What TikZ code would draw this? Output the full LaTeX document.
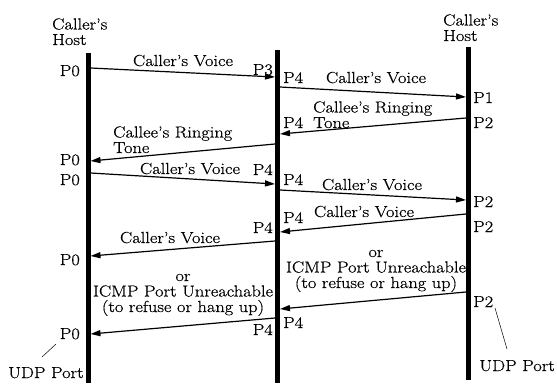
\documentclass[tikz,border=0pt]{standalone}
\usepackage{fontspec}
\setmainfont{Latin Modern Roman}[FakeStretch=1.15, FakeBold=0.6]
\usetikzlibrary{arrows.meta}

\begin{document}
\begin{tikzpicture}[
x=1pt, y=-1pt,
life/.style={line width=5pt},
msg/.style={-{Triangle[length=10pt,width=6pt]}, line width=1.2pt},
txt/.style={font=\fontsize{16}{15.5}\selectfont, inner sep=0pt, anchor=base},
portl/.style={txt, anchor=base east},
portr/.style={txt, anchor=base west},
note/.style={txt, align=center},
pin/.style={line width=0.5pt}
]
\useasboundingbox (0,0) rectangle (557,383);

% hosts and the relay in the middle
\node[txt, anchor=base west, align=left] (hostl) at (52,45) {Caller's\\Host};
\node[txt, anchor=base west, align=left] (hostr) at (443,41) {Caller's\\Host};
\draw[life] (88,53) coordinate (ltop) -- (88,383) coordinate (lbot);
\draw[life] (277.5,50) coordinate (mtop) -- (277.5,383) coordinate (mbot);
\draw[life] (468.5,47) coordinate (rtop) -- (468.5,380) coordinate (rbot);

% message ends
\coordinate (m1a) at (90.5,68);  \coordinate (m1b) at (275,77);
\coordinate (m2a) at (280,87);   \coordinate (m2b) at (466,97);
\coordinate (m3a) at (466,118);  \coordinate (m3b) at (280,134);
\coordinate (m4a) at (275,144);  \coordinate (m4b) at (90.5,161);
\coordinate (m5a) at (90.5,173); \coordinate (m5b) at (275,184);
\coordinate (m6a) at (280,190);  \coordinate (m6b) at (466,200);
\coordinate (m7a) at (466,214);  \coordinate (m7b) at (280,232);
\coordinate (m8a) at (275,241);  \coordinate (m8b) at (90.5,256);
\coordinate (m9a) at (466,292);  \coordinate (m9b) at (280,309);
\coordinate (m10a) at (275,318); \coordinate (m10b) at (90.5,334);

\draw[msg] (m1a) -- (m1b);
\draw[msg] (m2a) -- (m2b);
\draw[msg] (m3a) -- (m3b);
\draw[msg] (m4a) -- (m4b);
\draw[msg] (m5a) -- (m5b);
\draw[msg] (m6a) -- (m6b);
\draw[msg] (m7a) -- (m7b);
\draw[msg] (m8a) -- (m8b);
\draw[msg] (m9a) -- (m9b);
\draw[msg] (m10a) -- (m10b);

% message labels
\node[txt] (v1) at (183,66) {Caller's Voice};
\node[txt] (v2) at (376,83) {Caller's Voice};
\node[txt, anchor=base west, align=left] (ring2) at (313,128) {Callee's Ringing\\Tone};
\node[txt, anchor=base west, align=left] (ring1) at (113,153) {Callee's Ringing\\Tone};
\node[txt] (v5) at (190,174) {Caller's Voice};
\node[txt] (v6) at (372,190) {Caller's Voice};
\node[txt] (v7) at (364,217) {Caller's Voice};
\node[txt] (v8) at (170,243) {Caller's Voice};
\node[note] (icmp2) at (376,288) {or\\ICMP Port Unreachable\\(to refuse or hang up)};
\node[note] (icmp1) at (183,312) {or\\ICMP Port Unreachable\\(to refuse or hang up)};

% ports
\node[portl] (p0a) at (80,76) {P0};
\node[portl] (p0b) at (80,165) {P0};
\node[portl] (p0c) at (80,185) {P0};
\node[portl] (p0d) at (80,265) {P0};
\node[portl] (p0e) at (80,339) {P0};
\node[portl] (p3) at (273,75) {P3};
\node[portl] (p4a) at (273,175) {P4};
\node[portl] (p4b) at (273,233) {P4};
\node[portl] (p4c) at (273,335) {P4};
\node[portr] (p4d) at (283,83) {P4};
\node[portr] (p4e) at (283,128) {P4};
\node[portr] (p4f) at (283,185) {P4};
\node[portr] (p4g) at (283,223) {P4};
\node[portr] (p4h) at (283,328) {P4};
\node[portr] (p1) at (473,103) {P1};
\node[portr] (p2a) at (473,128) {P2};
\node[portr] (p2b) at (473,207) {P2};
\node[portr] (p2c) at (473,232) {P2};
\node[portr] (p2d) at (473,307) {P2};

% udp port callouts
\node[portr] (udpl) at (8,378) {UDP Port};
\node[portl] (udpr) at (555,371) {UDP Port};
\coordinate (udpl0) at (42,357); \coordinate (udpl1) at (56,344);
\coordinate (udpr0) at (495,308); \coordinate (udpr1) at (507,349);
\draw[pin] (udpl0) -- (udpl1);
\draw[pin] (udpr0) -- (udpr1);
\end{tikzpicture}
\end{document}
